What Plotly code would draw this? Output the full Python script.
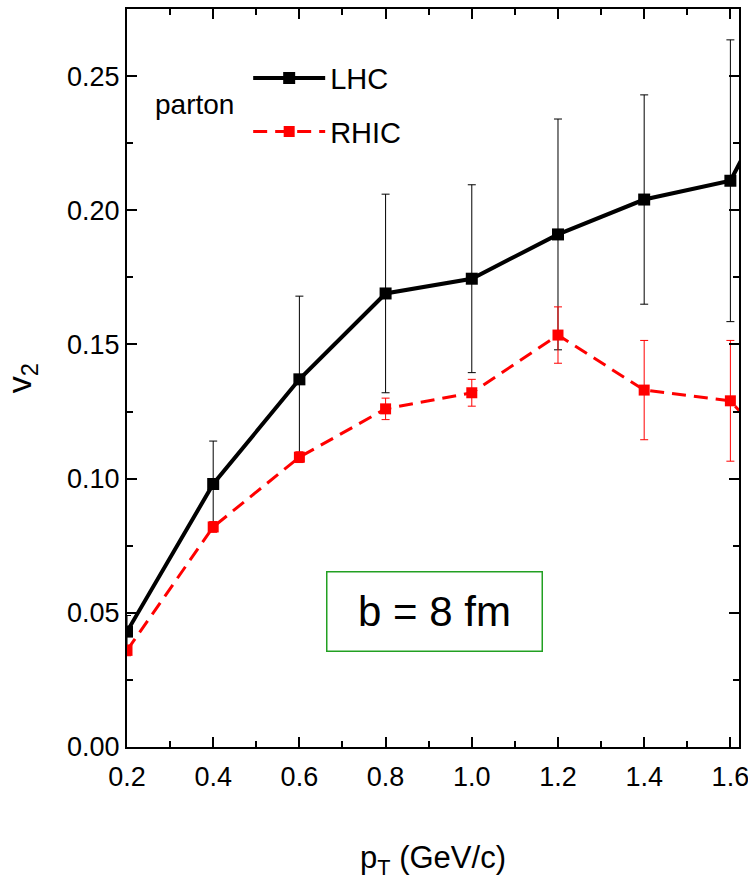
import plotly.graph_objects as go

# ---- data ----
pt = [0.2, 0.4, 0.6, 0.8, 1.0, 1.2, 1.4, 1.6, 1.8]
lhc_v2 = [0.043, 0.098, 0.137, 0.169, 0.1745, 0.191, 0.204, 0.211, 0.272]
lhc_err = [0.006, 0.016, 0.031, 0.037, 0.035, 0.043, 0.039, 0.0525, 0.05]
rhic_v2 = [0.036, 0.082, 0.108, 0.126, 0.132, 0.1535, 0.133, 0.129, 0.093]
rhic_err = [0.002, 0.002, 0.002, 0.004, 0.005, 0.0105, 0.0185, 0.0225, 0.02]

x_ticks = [0.2, 0.4, 0.6, 0.8, 1.0, 1.2, 1.4, 1.6]
y_ticks = [0.00, 0.05, 0.10, 0.15, 0.20, 0.25]

FONT = "Liberation Sans, Arial, Helvetica, sans-serif"

fig = go.Figure()
fig.add_trace(go.Scatter(
    x=pt, y=lhc_v2, name="LHC", mode="lines+markers", legendgroup="lhc",
    line=dict(color="black", width=4),
    marker=dict(symbol="square", size=12, color="black"),
    error_y=dict(type="data", array=lhc_err, color="black", thickness=1, width=4),
))
fig.add_trace(go.Scatter(
    x=pt, y=rhic_v2, name="RHIC", mode="lines+markers", legendgroup="rhic",
    line=dict(color="#ff0000", width=3, dash="14px,8px"),
    marker=dict(symbol="square", size=11, color="#ff0000"),
    error_y=dict(type="data", array=rhic_err, color="#ff0000", thickness=1, width=4),
))

axis_common = dict(
    showline=True, linecolor="black", linewidth=2, mirror="ticks",
    ticks="inside", ticklen=10, tickwidth=1.5, tickcolor="black",
    showgrid=False, zeroline=False, automargin=False,
    tickfont=dict(family=FONT, size=27, color="black"),
)

fig.update_xaxes(
    range=[0.2, 1.62], tickvals=x_ticks, tickformat=".1f",
    ticklabeloverflow="allow", ticklabelstandoff=5,
    minor=dict(dtick=0.1, tick0=0.2, ticks="inside", ticklen=6, tickwidth=1.5, tickcolor="black"),
    title=dict(text="p<sub>T</sub> (GeV/c)", font=dict(family=FONT, size=31, color="black"), standoff=55),
    **axis_common,
)
fig.update_yaxes(
    range=[0, 0.275], tickvals=y_ticks, tickformat=".2f",
    minor=dict(dtick=0.025, tick0=0, ticks="inside", ticklen=6, tickwidth=1.5, tickcolor="black"),
    title=dict(text="v<sub>2</sub>", font=dict(family=FONT, size=34, color="black"), standoff=34),
    **axis_common,
)

fig.add_annotation(
    text="parton", x=0.111, y=0.87, xref="paper", yref="paper",
    xanchor="center", yanchor="middle",
    showarrow=False, font=dict(family=FONT, size=28, color="black"),
)
fig.add_annotation(
    text="b = 8 fm", x=0.503, y=0.183, xref="paper", yref="paper",
    xanchor="center", yanchor="middle",
    showarrow=False, font=dict(family=FONT, size=42, color="black"),
    bordercolor="#22a022", borderwidth=1.5, borderpad=2, width=210, height=74,
    bgcolor="white",
)

fig.update_layout(
    width=748, height=884,
    margin=dict(l=127, r=9, t=9, b=137),
    paper_bgcolor="white", plot_bgcolor="white",
    showlegend=True,
    legend=dict(
        x=0.198, y=0.941, xanchor="left", yanchor="top",
        bgcolor="rgba(0,0,0,0)", itemwidth=72,
        font=dict(family=FONT, size=29, color="black"),
        tracegroupgap=13,
    ),
)

fig.write_html("out.html")
